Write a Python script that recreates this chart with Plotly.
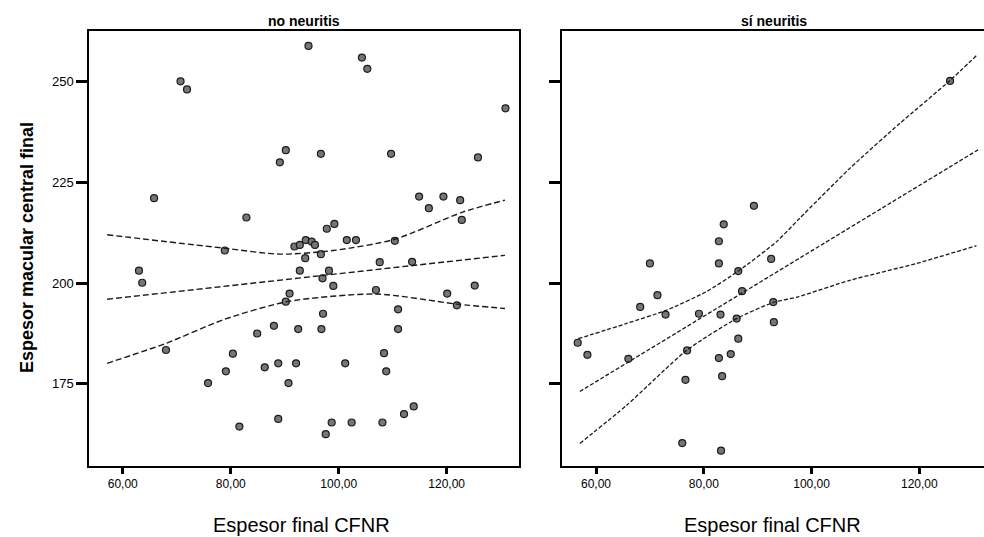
import plotly.graph_objects as go

# ---- data ----
no_x = [94.4, 104.3, 105.3, 70.7, 71.9, 130.9, 90.2, 89.1, 96.7, 109.7, 125.8, 65.8, 82.9,
        114.9, 116.7, 119.4, 122.5, 122.8, 97.8, 99.2, 101.5, 103.2, 110.4,
        91.8, 92.8, 93.9, 95.0, 95.6, 93.8, 96.7, 78.9, 107.6, 113.6, 63.0, 63.6, 92.8,
        98.2, 97.0, 99.0, 90.9, 90.2, 106.9, 125.2, 120.1, 121.9, 111.0, 97.1, 111.0,
        88.0, 84.9, 92.5, 96.8, 68.0, 80.4, 108.4, 79.1, 86.3, 88.8, 92.1, 101.2, 108.8,
        75.8, 90.7, 113.9, 112.1, 88.8, 81.6, 98.7, 102.4, 108.1, 97.6]
no_y = [258.9, 256.0, 253.2, 250.1, 248.1, 243.4, 233.0, 230.0, 232.1, 232.1, 231.2, 221.1, 216.3,
        221.5, 218.6, 221.5, 220.6, 215.7, 213.5, 214.7, 210.7, 210.7, 210.5,
        209.1, 209.5, 210.7, 210.3, 209.5, 206.2, 207.2, 208.1, 205.2, 205.3, 203.1, 200.1, 203.1,
        203.1, 201.2, 199.3, 197.4, 195.4, 198.3, 199.4, 197.4, 194.5, 193.5, 192.4, 188.6,
        189.4, 187.5, 188.6, 188.6, 183.4, 182.5, 182.6, 178.1, 179.1, 180.1, 180.1, 180.1, 178.1,
        175.2, 175.2, 169.4, 167.5, 166.3, 164.4, 165.4, 165.4, 165.4, 162.5]

si_x = [125.7, 89.3, 83.7, 82.8, 70.0, 82.8, 92.5, 86.4, 71.4, 87.1, 68.2, 72.9, 79.1, 83.1,
        92.9, 86.1, 93.0, 86.4, 56.6, 58.4, 66.0, 76.9, 82.8, 85.0, 76.6, 83.4, 76.0, 83.2]
si_y = [250.2, 219.2, 214.6, 210.4, 204.9, 204.9, 206.0, 203.0, 197.0, 198.0, 194.1, 192.2, 192.4, 192.2,
        195.3, 191.2, 190.3, 186.2, 185.2, 182.2, 181.2, 183.3, 181.4, 182.4, 176.0, 176.9, 160.3, 158.4]

# fit line and confidence band points
no_fit_x = [57.1, 130.8]
no_fit_y = [196.0, 206.9]
no_up_x = [57.1, 78.6, 89.1, 99.0, 110.4, 123.1, 130.8]
no_up_y = [212.0, 208.7, 207.2, 208.1, 210.9, 217.7, 220.6]
no_lo_x = [57.1, 68.1, 78.6, 90.4, 106.9, 121.9, 130.8]
no_lo_y = [180.1, 185.1, 190.9, 195.4, 197.3, 194.8, 193.7]

si_fit_x = [57.0, 130.9]
si_fit_y = [173.1, 233.1]
si_up_x = [56.7, 65.7, 73.1, 80.5, 86.4, 93.5, 97.8, 107.1, 116.4, 125.6, 130.6]
si_up_y = [186.2, 190.0, 193.3, 197.9, 203.0, 210.3, 216.1, 228.5, 239.7, 250.2, 256.5]
si_lo_x = [57.0, 65.7, 76.8, 86.1, 92.9, 97.5, 107.1, 119.5, 130.6]
si_lo_y = [160.2, 169.7, 183.3, 191.2, 195.2, 196.6, 200.7, 204.9, 209.3]

x_ticks = [60, 80, 100, 120]
y_ticks = [175, 200, 225, 250]
panel_titles = ["no neuritis", "sí neuritis"]
x_title = "Espesor final CFNR"
y_title = "Espesor macular central final"

W, H = 984, 537
FONT = "Liberation Sans, Arial, sans-serif"

marker = dict(size=7, color="#767676", line=dict(color="#1a1a1a", width=1.2))
ln = dict(color="#1a1a1a", width=1.4, dash="6px,3px")
ln2 = dict(color="#1a1a1a", width=1.3, dash="4px,2px")

fig = go.Figure()
fig.add_trace(go.Scatter(x=no_x, y=no_y, mode="markers", marker=marker, xaxis="x", yaxis="y"))
for xs, ys in [(no_fit_x, no_fit_y), (no_up_x, no_up_y), (no_lo_x, no_lo_y)]:
    fig.add_trace(go.Scatter(x=xs, y=ys, mode="lines", line=dict(ln, shape="spline", smoothing=0.7),
                             xaxis="x", yaxis="y"))
fig.add_trace(go.Scatter(x=si_x, y=si_y, mode="markers", marker=marker, xaxis="x2", yaxis="y2"))
for xs, ys in [(si_fit_x, si_fit_y), (si_up_x, si_up_y), (si_lo_x, si_lo_y)]:
    fig.add_trace(go.Scatter(x=xs, y=ys, mode="lines", line=dict(ln2, shape="spline", smoothing=0.6),
                             xaxis="x2", yaxis="y2"))

ydom = [1 - 466 / H, 1 - 31 / H]
common_x = dict(tickvals=x_ticks, tickformat=".2f", ticks="outside", ticklen=6, tickwidth=3,
                tickcolor="black", showline=True, linecolor="black", linewidth=2,
                showgrid=False, zeroline=False, tickfont=dict(family=FONT, size=12, color="black"))
common_y = dict(tickvals=y_ticks, ticks="outside", ticklen=11, tickwidth=3, tickcolor="black",
                showline=True, linecolor="black", linewidth=2, showgrid=False, zeroline=False,
                range=[154.6, 262.6], tickfont=dict(family=FONT, size=13, color="black"))

fig.update_layout(
    width=W, height=H, margin=dict(l=0, r=0, t=0, b=0),
    paper_bgcolor="white", plot_bgcolor="white", showlegend=False,
    separators=",.",
    xaxis=dict(common_x, domain=[89.3 / W, 519 / W], range=[53.8, 133.4], mirror=True, anchor="y"),
    yaxis=dict(common_y, domain=ydom, mirror=True, anchor="x", showticklabels=True),
    xaxis2=dict(common_x, domain=[561.7 / W, 1.0], range=[53.63, 132.0], mirror=True, anchor="y2"),
    yaxis2=dict(common_y, domain=ydom, mirror=False, anchor="x2", showticklabels=False),
    annotations=[
        dict(text="<b>" + panel_titles[0] + "</b>", x=304 / W, y=1 - 21 / H, xref="paper", yref="paper",
             showarrow=False, font=dict(family=FONT, size=14, color="black"), xanchor="center", yanchor="middle"),
        dict(text="<b>" + panel_titles[1] + "</b>", x=774 / W, y=1 - 21 / H, xref="paper", yref="paper",
             showarrow=False, font=dict(family=FONT, size=14, color="black"), xanchor="center", yanchor="middle"),
        dict(text=x_title, x=301 / W, y=1 - 525 / H, xref="paper", yref="paper", showarrow=False,
             font=dict(family=FONT, size=20, color="black"), xanchor="center", yanchor="middle"),
        dict(text=x_title, x=772 / W, y=1 - 525 / H, xref="paper", yref="paper", showarrow=False,
             font=dict(family=FONT, size=20, color="black"), xanchor="center", yanchor="middle"),
        dict(text="<b>" + y_title + "</b>", x=27 / W, y=1 - 248 / H, xref="paper", yref="paper",
             showarrow=False, textangle=-90,
             font=dict(family=FONT, size=18, color="black"), xanchor="center", yanchor="middle"),
    ],
)

fig.write_html("out.html")
